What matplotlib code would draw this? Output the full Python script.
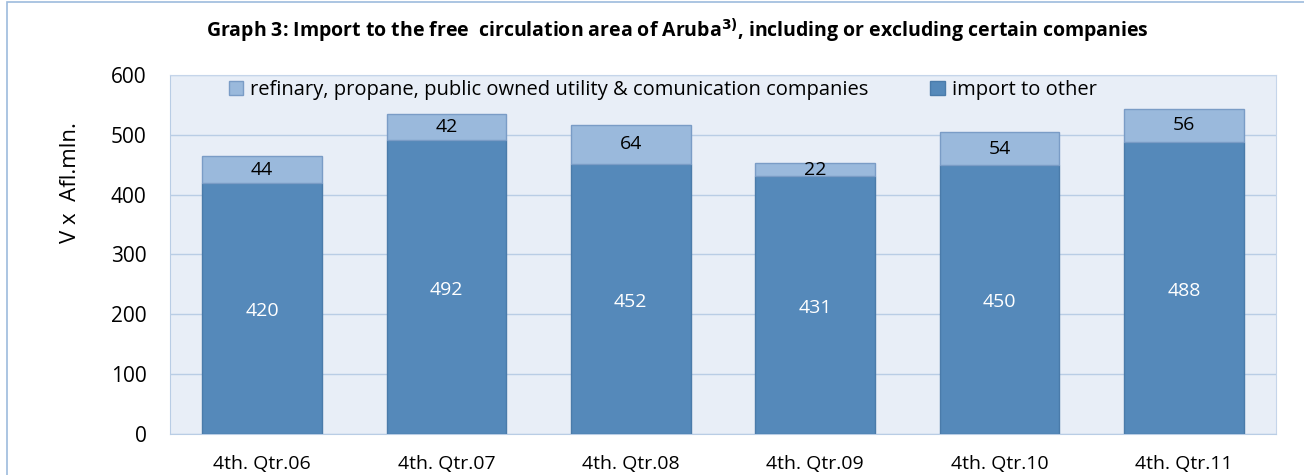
import matplotlib
matplotlib.use("Agg")
import matplotlib.pyplot as plt
from matplotlib.patches import Rectangle

categories = ["4th. Qtr.06", "4th. Qtr.07", "4th. Qtr.08", "4th. Qtr.09", "4th. Qtr.10", "4th. Qtr.11"]
import_other = [420, 492, 452, 431, 450, 488]
refinery = [44, 42, 64, 22, 54, 56]

plt.rcParams['font.family'] = ['Open Sans', 'DejaVu Sans']

fig = plt.figure(figsize=(13.04, 4.75), dpi=100)
ax = fig.add_axes([170/1304, 1-434/475, 1106/1304, 359/475])
ax.set_facecolor('#E8EEF7')

dark = '#5589BA'
light = '#9AB9DC'
x = list(range(len(categories)))
b1 = ax.bar(x, import_other, width=0.65, color=dark, edgecolor='#4A7BAA', linewidth=1, zorder=3,
            label='import to other')
b2 = ax.bar(x, refinery, width=0.65, bottom=import_other, color=light, edgecolor='#7A9CC6', linewidth=1,
            zorder=3, label='refinary, propane, public owned utility & comunication companies')

for xi, v, r in zip(x, import_other, refinery):
    ax.text(xi, v / 2 - 5, f"{v}", ha='center', va='center', color='white', fontsize=14, zorder=4)
    ax.text(xi, v + r / 2, f"{r}", ha='center', va='center', color='black', fontsize=14, zorder=4)

ax.set_xlim(-0.5, len(categories) - 0.5)
ax.set_ylim(0, 600)
ax.set_yticks(range(0, 601, 100))
ax.yaxis.grid(True, color='#B9CDE5', linewidth=1, zorder=0)
ax.set_axisbelow(True)
ax.set_xticks(x)
ax.set_xticklabels(categories, fontsize=14)
ax.tick_params(axis='y', labelsize=15, length=0, pad=17)
ax.tick_params(axis='x', length=0, pad=15)
for s in ['top', 'right']:
    ax.spines[s].set_color('#C5D5EA')
for s in ['left', 'bottom']:
    ax.spines[s].set_color('#B9CDE5')

fig.text(71/1304, 1-183/475, 'V x  Afl.mln.', rotation=90, ha='center', va='center', fontsize=16)

handles = [b2, b1]
leg = ax.legend(handles, [h.get_label() for h in handles], loc='upper left', bbox_to_anchor=(0.042, 1.02),
                ncol=2, frameon=False, fontsize=14.5, handlelength=0.7, handleheight=0.7,
                handletextpad=0.35, columnspacing=3.1, borderaxespad=0.2)

fig.text(677/1304, 1-31/475, r'Graph 3: Import to the free  circulation area of Aruba$^{\mathbf{3)}}$, including or excluding certain companies',
         ha='center', va='center', fontsize=14, fontweight='bold')

# outer frame
fig.patches.append(Rectangle((7/1304, -0.01), 1.0, 1 - 2/475 + 0.01, transform=fig.transFigure,
                             fill=False, edgecolor='#9DBBDD', linewidth=1.2))

fig.savefig('out.png', dpi=100)
